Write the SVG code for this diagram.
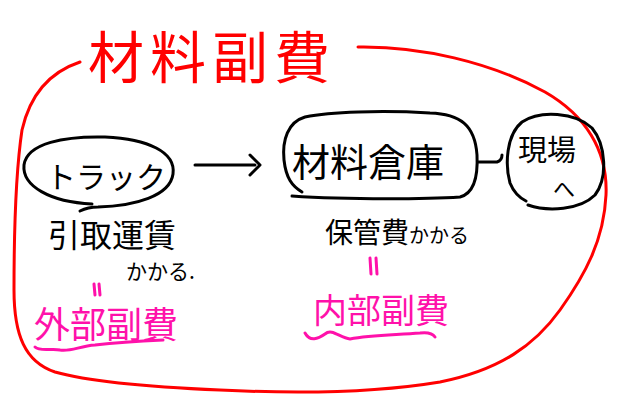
<svg xmlns="http://www.w3.org/2000/svg" width="620" height="407" viewBox="0 0 620 407">
<style>
.ink{fill:none;stroke:#000;stroke-width:3;stroke-linecap:round;stroke-linejoin:round}
.red{fill:none;stroke:#ff0000;stroke-width:3;stroke-linecap:round}
.pink{fill:none;stroke:#ff11aa;stroke-width:3;stroke-linecap:round}
.t{font-family:"Noto Sans CJK JP","Noto Sans",sans-serif;fill:#000}
.pt{font-family:"Noto Sans CJK JP","Noto Sans",sans-serif;fill:#ff11aa}
</style>
<rect width="620" height="407" fill="#fff"/>
<g id="group-material-overhead">
<path class="red" d="M358,47 C420,46 490,62 545,92 C585,115 608,150 606,195 C604,240 585,275 560,310 C535,345 500,370 440,382 C380,392 300,394 220,390 C150,387 90,382 55,372 C25,362 14,335 14,290 C14,230 16,170 22,130 C30,95 50,72 80,62"/>
<text x="88" y="78" font-size="56" letter-spacing="6" style="fill:#ff0000;font-family:'Noto Sans CJK JP',sans-serif">材料副費</text>
</g>
<g id="node-truck">
<path class="ink" d="M92,204 C50,202 22,186 24,165 C27,143 65,136 105,137 C148,139 176,152 173,174 C170,196 135,206 98,207 C90,207 84,209 80,211"/>
<text class="t" x="46" y="188" font-size="30">トラック</text>
</g>
<g id="node-warehouse">
<path class="ink" d="M292,196 C350,200 430,199 460,197 C475,193 478,175 477,155 C475,125 460,114 430,113 C380,110 330,112 305,117 C288,122 282,140 284,160 C286,178 292,186 302,192"/>
<text class="t" x="292" y="176" font-size="38">材料倉庫</text>
</g>
<g id="node-site">
<path class="ink" d="M528,205 C548,212 580,210 595,195 C608,178 606,145 592,128 C575,112 540,110 522,122 C506,135 505,165 510,183 C514,193 520,198 526,201"/>
<text class="t" x="518" y="161" font-size="29">現場</text>
<text class="t" x="553" y="197" font-size="22">へ</text>
</g>
<g id="connectors">
<path class="ink" d="M195,165 L255,165 M250,155 L260,165 L250,175"/>
<path class="ink" d="M478,162 L497,162 C500,161 502,158 502,155"/>
<path class="pink" d="M94,284 L95,295 M99,284 L100,295"/>
<path class="pink" d="M370,258 L371,274 M376,258 L377,274"/>
</g>
<g id="label-freight">
<text class="t" x="48" y="247" font-size="32">引取運賃</text>
<text class="t" x="126" y="279" font-size="21">かかる.</text>
</g>
<g id="label-storage">
<text class="t" x="325" y="243" font-size="28">保管費</text>
<text class="t" x="409" y="243" font-size="20">かかる</text>
</g>
<g id="label-external">
<text class="pt" x="34" y="338" font-size="36">外部副費</text>
<path class="pink" d="M35,347 C40,352 52,348 60,350 C70,352 80,346 95,345 C120,342 140,341 163,340"/>
</g>
<g id="label-internal">
<text class="pt" x="313" y="323" font-size="34">内部副費</text>
<path class="pink" d="M305,333 C310,342 318,339 325,334 C332,328 340,338 350,339 C370,335 395,335 420,333 C428,332 433,334 435,337"/>
</g>
</svg>
